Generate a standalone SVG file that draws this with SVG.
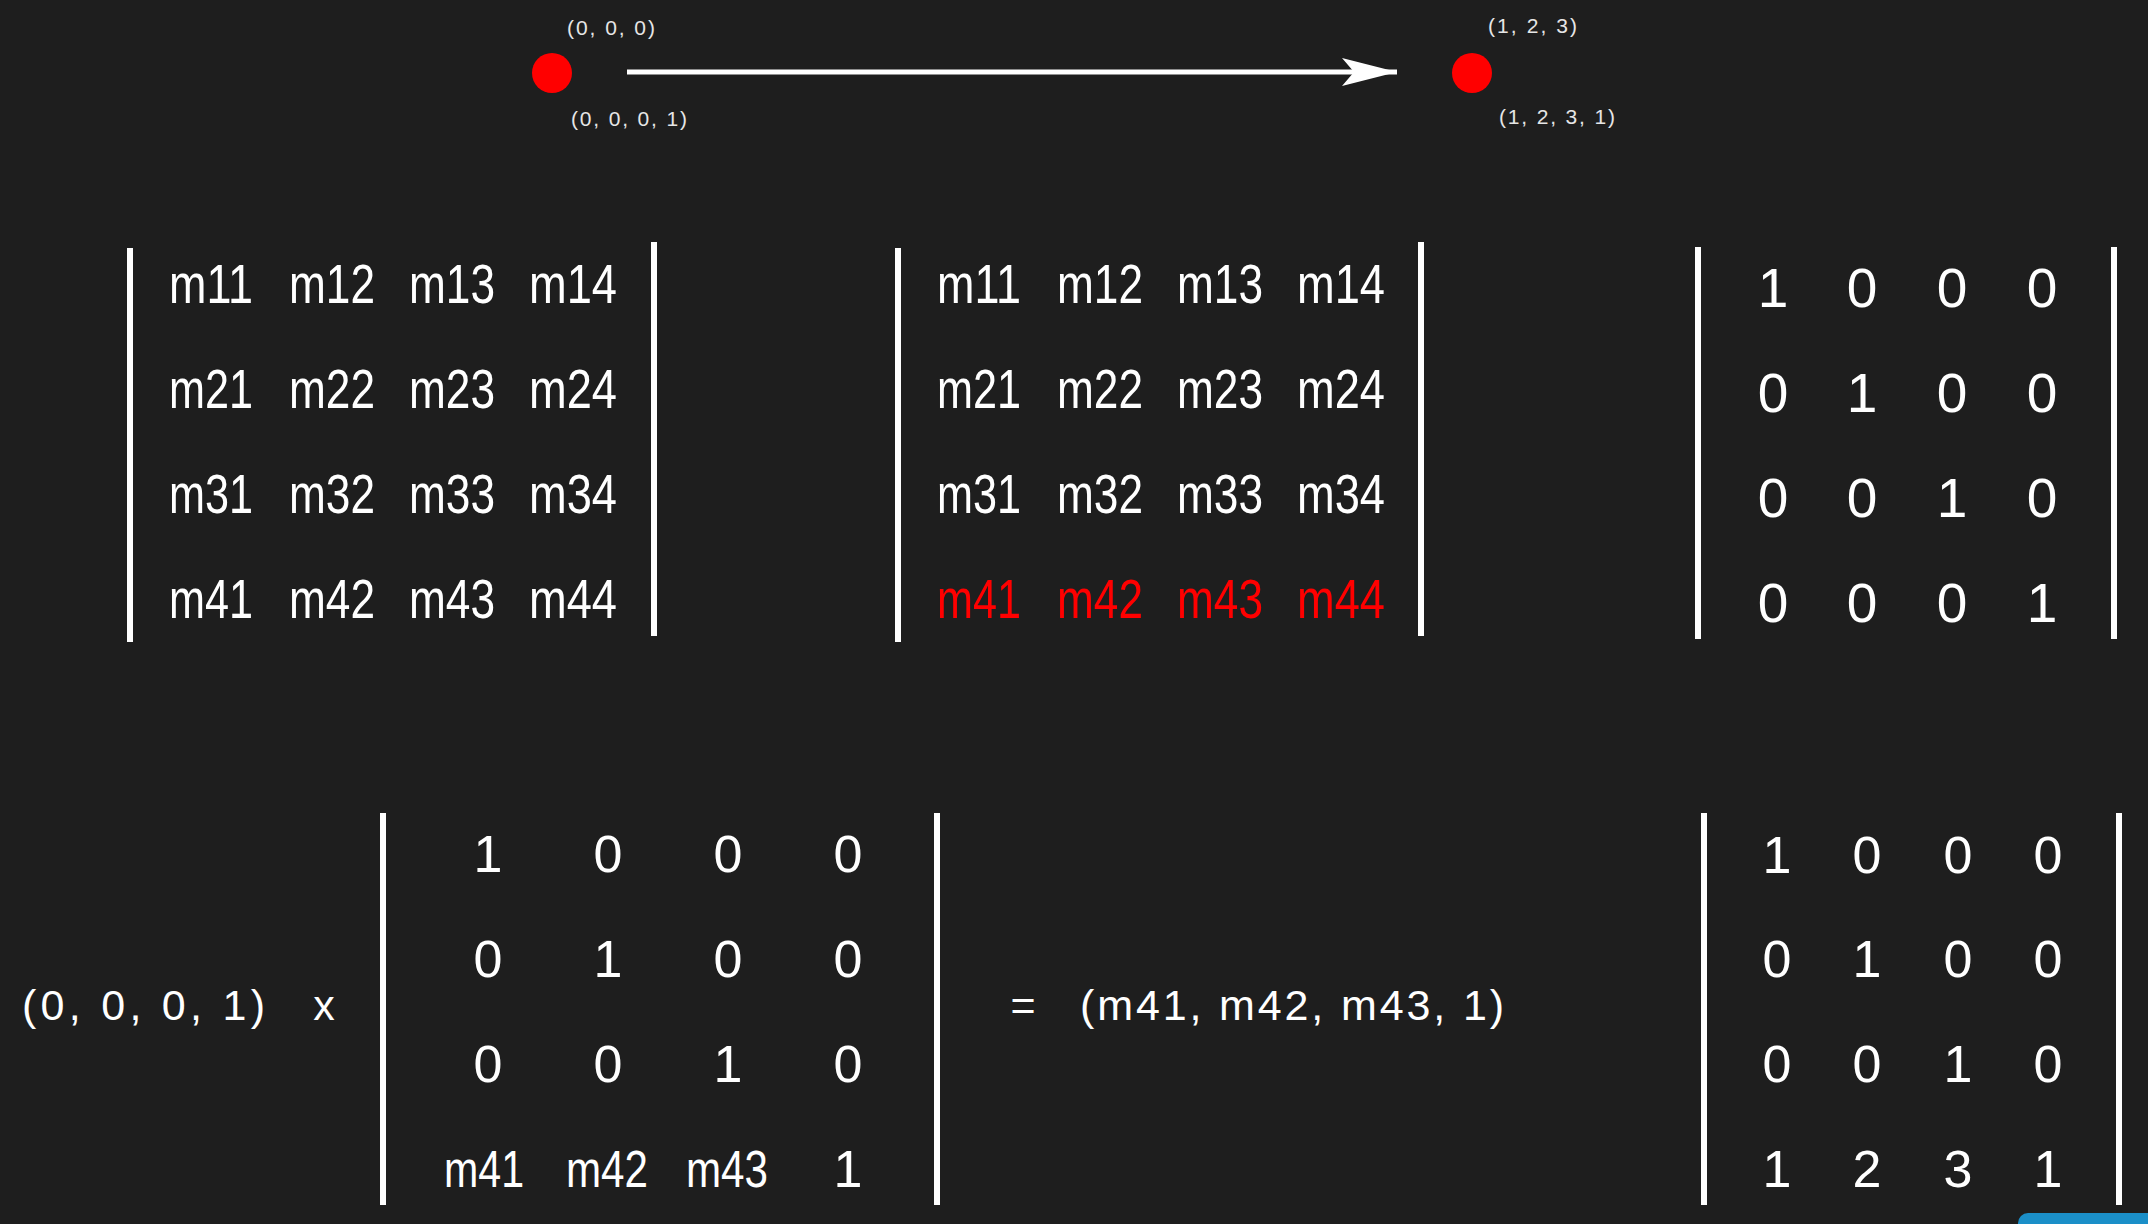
<svg xmlns="http://www.w3.org/2000/svg" width="2148" height="1224" viewBox="0 0 2148 1224">
<defs>
<style>
text{font-family:"Liberation Sans",Arial,sans-serif;fill:#ffffff}
.lbl{font-size:21px;fill:#e6e6e6}
.big{font-size:55px}
.mid{font-size:52px}
.eq{font-size:43px}
.red{fill:#ff0000}
.bar{stroke:#ffffff;stroke-width:6;fill:none}
.c{text-anchor:middle}
</style>
<marker id="arr" markerUnits="userSpaceOnUse" markerWidth="60" markerHeight="40" refX="55" refY="14" orient="auto" viewBox="0 0 60 40">
<path d="M0,0 L55,14 L0,28 L12,14 Z" fill="#ffffff"/>
</marker>
</defs>
<rect x="0" y="0" width="2148" height="1224" fill="#1e1e1e"/>

<g id="point-origin">
<circle cx="552" cy="73" r="20" fill="#ff0000"/>
<text class="lbl" x="567" y="35" textLength="88" lengthAdjust="spacing">(0, 0, 0)</text>
<text class="lbl" x="571" y="126" textLength="116" lengthAdjust="spacing">(0, 0, 0, 1)</text>
</g>
<g id="point-target">
<circle cx="1472" cy="73" r="20" fill="#ff0000"/>
<text class="lbl" x="1488" y="33" textLength="89" lengthAdjust="spacing">(1, 2, 3)</text>
<text class="lbl" x="1499" y="124" textLength="116" lengthAdjust="spacing">(1, 2, 3, 1)</text>
</g>

<g id="connectors">
<line x1="627" y1="72" x2="1397" y2="72" stroke="#ffffff" stroke-width="5" marker-end="url(#arr)"/>
</g>

<g id="matrix-general">
<line class="bar" x1="130" y1="248" x2="130" y2="642"/>
<line class="bar" x1="654" y1="242" x2="654" y2="636"/>
<g class="big">
<text x="169" y="303" textLength="84" lengthAdjust="spacingAndGlyphs">m11</text>
<text x="289" y="303" textLength="86" lengthAdjust="spacingAndGlyphs">m12</text>
<text x="409" y="303" textLength="86" lengthAdjust="spacingAndGlyphs">m13</text>
<text x="529" y="303" textLength="88" lengthAdjust="spacingAndGlyphs">m14</text>
<text x="169" y="408" textLength="84" lengthAdjust="spacingAndGlyphs">m21</text>
<text x="289" y="408" textLength="86" lengthAdjust="spacingAndGlyphs">m22</text>
<text x="409" y="408" textLength="86" lengthAdjust="spacingAndGlyphs">m23</text>
<text x="529" y="408" textLength="88" lengthAdjust="spacingAndGlyphs">m24</text>
<text x="169" y="513" textLength="84" lengthAdjust="spacingAndGlyphs">m31</text>
<text x="289" y="513" textLength="86" lengthAdjust="spacingAndGlyphs">m32</text>
<text x="409" y="513" textLength="86" lengthAdjust="spacingAndGlyphs">m33</text>
<text x="529" y="513" textLength="88" lengthAdjust="spacingAndGlyphs">m34</text>
<text x="169" y="618" textLength="84" lengthAdjust="spacingAndGlyphs">m41</text>
<text x="289" y="618" textLength="86" lengthAdjust="spacingAndGlyphs">m42</text>
<text x="409" y="618" textLength="86" lengthAdjust="spacingAndGlyphs">m43</text>
<text x="529" y="618" textLength="88" lengthAdjust="spacingAndGlyphs">m44</text>
</g>
</g>

<g id="matrix-highlight">
<line class="bar" x1="898" y1="248" x2="898" y2="642"/>
<line class="bar" x1="1421" y1="242" x2="1421" y2="636"/>
<g class="big">
<text x="937" y="303" textLength="84" lengthAdjust="spacingAndGlyphs">m11</text>
<text x="1057" y="303" textLength="86" lengthAdjust="spacingAndGlyphs">m12</text>
<text x="1177" y="303" textLength="86" lengthAdjust="spacingAndGlyphs">m13</text>
<text x="1297" y="303" textLength="88" lengthAdjust="spacingAndGlyphs">m14</text>
<text x="937" y="408" textLength="84" lengthAdjust="spacingAndGlyphs">m21</text>
<text x="1057" y="408" textLength="86" lengthAdjust="spacingAndGlyphs">m22</text>
<text x="1177" y="408" textLength="86" lengthAdjust="spacingAndGlyphs">m23</text>
<text x="1297" y="408" textLength="88" lengthAdjust="spacingAndGlyphs">m24</text>
<text x="937" y="513" textLength="84" lengthAdjust="spacingAndGlyphs">m31</text>
<text x="1057" y="513" textLength="86" lengthAdjust="spacingAndGlyphs">m32</text>
<text x="1177" y="513" textLength="86" lengthAdjust="spacingAndGlyphs">m33</text>
<text x="1297" y="513" textLength="88" lengthAdjust="spacingAndGlyphs">m34</text>
<text class="red" x="937" y="618" textLength="84" lengthAdjust="spacingAndGlyphs">m41</text>
<text class="red" x="1057" y="618" textLength="86" lengthAdjust="spacingAndGlyphs">m42</text>
<text class="red" x="1177" y="618" textLength="86" lengthAdjust="spacingAndGlyphs">m43</text>
<text class="red" x="1297" y="618" textLength="88" lengthAdjust="spacingAndGlyphs">m44</text>
</g>
</g>

<g id="matrix-identity">
<line class="bar" x1="1698" y1="247" x2="1698" y2="639"/>
<line class="bar" x1="2114" y1="247" x2="2114" y2="639"/>
<g class="big c">
<text x="1773" y="307">1</text><text x="1862" y="307">0</text><text x="1952" y="307">0</text><text x="2042" y="307">0</text>
<text x="1773" y="412">0</text><text x="1862" y="412">1</text><text x="1952" y="412">0</text><text x="2042" y="412">0</text>
<text x="1773" y="517">0</text><text x="1862" y="517">0</text><text x="1952" y="517">1</text><text x="2042" y="517">0</text>
<text x="1773" y="622">0</text><text x="1862" y="622">0</text><text x="1952" y="622">0</text><text x="2042" y="622">1</text>
</g>
</g>

<g id="vector-input">
<text class="eq" x="22" y="1020" textLength="243" lengthAdjust="spacing">(0, 0, 0, 1)</text>
<text class="eq c" x="324" y="1020">x</text>
</g>

<g id="matrix-translation">
<line class="bar" x1="383" y1="813" x2="383" y2="1205"/>
<line class="bar" x1="937" y1="813" x2="937" y2="1205"/>
<g class="mid c">
<text x="488" y="872">1</text><text x="608" y="872">0</text><text x="728" y="872">0</text><text x="848" y="872">0</text>
<text x="488" y="977">0</text><text x="608" y="977">1</text><text x="728" y="977">0</text><text x="848" y="977">0</text>
<text x="488" y="1082">0</text><text x="608" y="1082">0</text><text x="728" y="1082">1</text><text x="848" y="1082">0</text>
<text x="484" y="1187" textLength="80" lengthAdjust="spacingAndGlyphs">m41</text>
<text x="607" y="1187" textLength="82" lengthAdjust="spacingAndGlyphs">m42</text>
<text x="727" y="1187" textLength="82" lengthAdjust="spacingAndGlyphs">m43</text>
<text x="848" y="1187">1</text>
</g>
</g>

<g id="result">
<text class="eq c" x="1023" y="1020">=</text>
<text class="eq" x="1080" y="1020" textLength="424" lengthAdjust="spacing">(m41, m42, m43, 1)</text>
</g>

<g id="matrix-example">
<line class="bar" x1="1704" y1="813" x2="1704" y2="1205"/>
<line class="bar" x1="2119" y1="813" x2="2119" y2="1205"/>
<g class="mid c">
<text x="1777" y="873">1</text><text x="1867" y="873">0</text><text x="1958" y="873">0</text><text x="2048" y="873">0</text>
<text x="1777" y="977">0</text><text x="1867" y="977">1</text><text x="1958" y="977">0</text><text x="2048" y="977">0</text>
<text x="1777" y="1082">0</text><text x="1867" y="1082">0</text><text x="1958" y="1082">1</text><text x="2048" y="1082">0</text>
<text x="1777" y="1187">1</text><text x="1867" y="1187">2</text><text x="1958" y="1187">3</text><text x="2048" y="1187">1</text>
</g>
</g>

<rect x="2018" y="1213" width="160" height="40" rx="10" fill="#1b8fc8"/>
</svg>
